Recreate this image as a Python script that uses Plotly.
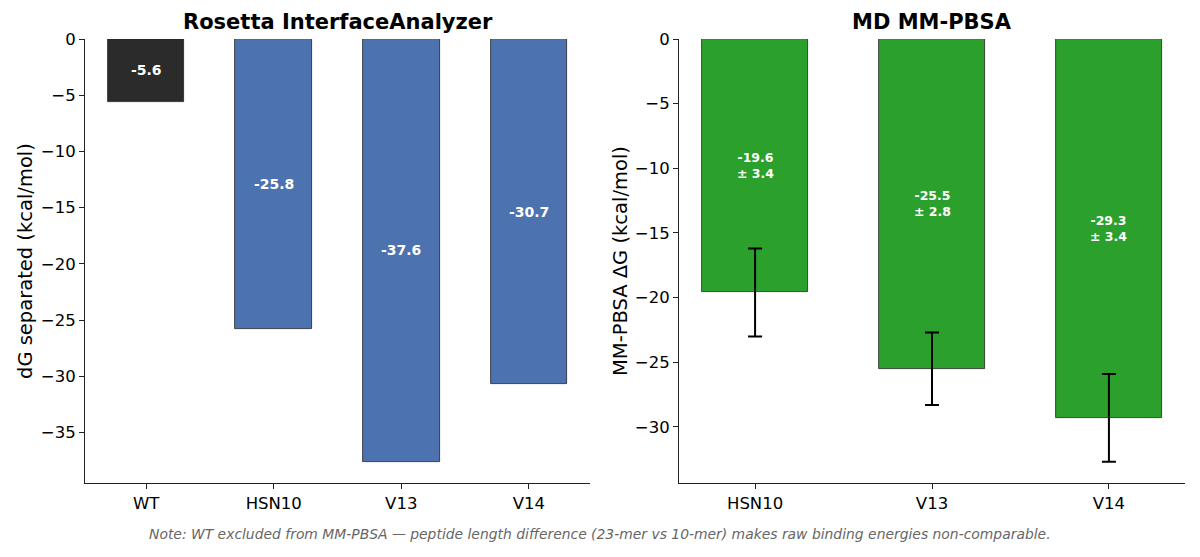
import plotly.graph_objects as go

# Rosetta InterfaceAnalyzer (dG separated, kcal/mol)
rosetta_labels = ["WT", "HSN10", "V13", "V14"]
rosetta_dg = [-5.6, -25.8, -37.6, -30.7]
rosetta_colors = ["#2b2b2b", "#4c72b0", "#4c72b0", "#4c72b0"]

# MD MM-PBSA (mean +/- sd, kcal/mol)
mmpbsa_labels = ["HSN10", "V13", "V14"]
mmpbsa_dg = [-19.6, -25.5, -29.3]
mmpbsa_sd = [3.4, 2.8, 3.4]

note = ("Note: WT excluded from MM-PBSA \u2014 peptide length difference "
        "(23-mer vs 10-mer) makes raw binding energies non-comparable.")

W, H = 1200, 557
FONT = "DejaVu Sans"


def px_x(x):
    return x / W


def px_y(y):
    return (H - y) / H


fig = go.Figure()
fig.add_trace(go.Bar(x=rosetta_labels, y=rosetta_dg, width=0.6,
                     marker=dict(color=rosetta_colors, line=dict(color="#222", width=0.8)),
                     xaxis="x", yaxis="y", showlegend=False))
fig.add_trace(go.Bar(x=mmpbsa_labels, y=mmpbsa_dg, width=0.6,
                     marker=dict(color="#2ca02c", line=dict(color="#222", width=0.8)),
                     error_y=dict(type="data", array=mmpbsa_sd, color="black", thickness=2, width=7),
                     xaxis="x2", yaxis="y2", showlegend=False))

ann = []
for lab, v in zip(rosetta_labels, rosetta_dg):
    ann.append(dict(x=lab, y=v / 2, xref="x", yref="y", text=f"<b>{v:.1f}</b>", showarrow=False,
                    font=dict(family=FONT, size=14, color="white")))
for lab, v, s in zip(mmpbsa_labels, mmpbsa_dg, mmpbsa_sd):
    ann.append(dict(x=lab, y=v / 2, xref="x2", yref="y2", text=f"<b>{v:.1f}<br>\u00b1 {s:.1f}</b>",
                    showarrow=False, font=dict(family=FONT, size=12.5, color="white")))

ann += [
    dict(x=px_x(337.5), y=px_y(22), text="<b>Rosetta InterfaceAnalyzer</b>",
         font=dict(family=FONT, size=21, color="black")),
    dict(x=px_x(932), y=px_y(22), text="<b>MD MM-PBSA</b>",
         font=dict(family=FONT, size=21, color="black")),
    dict(x=px_x(25), y=px_y(261), text="dG separated (kcal/mol)", textangle=-90,
         font=dict(family=FONT, size=19.5, color="black")),
    dict(x=px_x(620), y=px_y(261), text="MM-PBSA \u0394G (kcal/mol)", textangle=-90,
         font=dict(family=FONT, size=19.5, color="black")),
    dict(x=0.5, y=px_y(534), text=f"<i>{note}</i>",
         font=dict(family=FONT, size=13.9, color="#666")),
]
for a in ann[-5:]:
    a.update(xref="paper", yref="paper", xanchor="center", yanchor="middle", showarrow=False)

axis_common = dict(showline=True, linecolor="#222", linewidth=1, ticks="outside", ticklen=5,
                   tickwidth=1, tickcolor="#222", showgrid=False, zeroline=False, automargin=False,
                   tickfont=dict(family=FONT, size=16.5, color="black"))

fig.update_layout(
    width=W, height=H, margin=dict(l=0, r=0, t=0, b=0, autoexpand=False),
    paper_bgcolor="white", plot_bgcolor="white", bargap=0,
    xaxis=dict(domain=[px_x(85), px_x(590)], range=[-0.48, 3.48], anchor="y", **axis_common),
    yaxis=dict(domain=[px_y(483), px_y(39)], range=[-39.48, 0], dtick=5, anchor="x", **axis_common),
    xaxis2=dict(domain=[px_x(679), px_x(1185)], range=[-0.43, 2.43], anchor="y2", **axis_common),
    yaxis2=dict(domain=[px_y(483), px_y(39)], range=[-34.335, 0], dtick=5, anchor="x2", **axis_common),
    annotations=ann,
)

fig.write_html("out.html", config={"displayModeBar": False},
               post_script="document.body.style.margin='0';")
